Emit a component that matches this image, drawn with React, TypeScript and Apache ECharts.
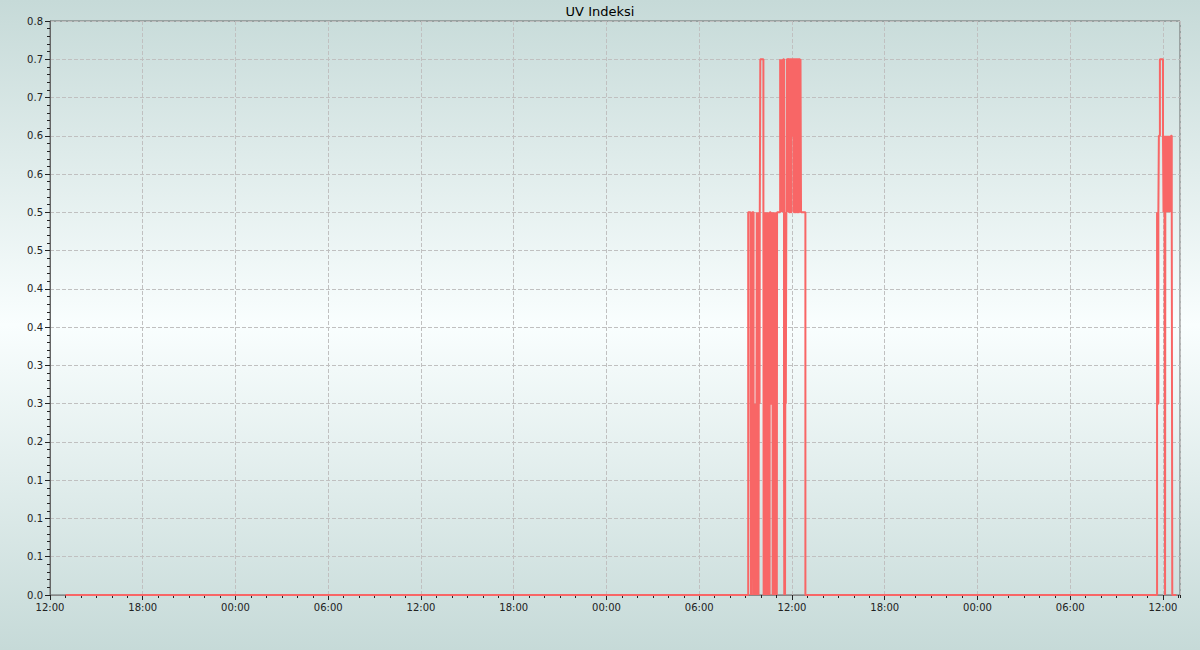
import React, { useEffect, useRef } from "react";
import * as echarts from "echarts";

// ---- data ----
const startStamp = "2024-06-10 12:00";
const xMaxHours = 73.1;
const xTickLabels = ["12:00", "18:00", "00:00", "06:00", "12:00", "18:00", "00:00", "06:00", "12:00", "18:00", "00:00", "06:00", "12:00"];
const yTickLabels = ["0.0", "0.1", "0.1", "0.1", "0.2", "0.3", "0.3", "0.4", "0.4", "0.5", "0.5", "0.6", "0.6", "0.7", "0.7", "0.8"];

const uvTimes = [
  "2024-06-10 13:00",
  "2024-06-12 09:10", "2024-06-12 09:19", "2024-06-12 09:21", "2024-06-12 09:22", "2024-06-12 09:24",
  "2024-06-12 09:25", "2024-06-12 09:31", "2024-06-12 09:32", "2024-06-12 09:34", "2024-06-12 09:35",
  "2024-06-12 09:37", "2024-06-12 09:38", "2024-06-12 09:40", "2024-06-12 09:41", "2024-06-12 09:43",
  "2024-06-12 09:45", "2024-06-12 09:47", "2024-06-12 09:49", "2024-06-12 09:50", "2024-06-12 09:52",
  "2024-06-12 09:54", "2024-06-12 09:55", "2024-06-12 09:57", "2024-06-12 10:09", "2024-06-12 10:10",
  "2024-06-12 10:12", "2024-06-12 10:13", "2024-06-12 10:15", "2024-06-12 10:16", "2024-06-12 10:18",
  "2024-06-12 10:19", "2024-06-12 10:21", "2024-06-12 10:22", "2024-06-12 10:24", "2024-06-12 10:25",
  "2024-06-12 10:27", "2024-06-12 10:28", "2024-06-12 10:29", "2024-06-12 10:31", "2024-06-12 10:33",
  "2024-06-12 10:34", "2024-06-12 10:37", "2024-06-12 10:44", "2024-06-12 10:45", "2024-06-12 10:47",
  "2024-06-12 10:48", "2024-06-12 10:50", "2024-06-12 10:51", "2024-06-12 10:52", "2024-06-12 10:54",
  "2024-06-12 10:55", "2024-06-12 10:57", "2024-06-12 10:58", "2024-06-12 11:00", "2024-06-12 11:01",
  "2024-06-12 11:02", "2024-06-12 11:14", "2024-06-12 11:16", "2024-06-12 11:18", "2024-06-12 11:20",
  "2024-06-12 11:22", "2024-06-12 11:24", "2024-06-12 11:26", "2024-06-12 11:29", "2024-06-12 11:30",
  "2024-06-12 11:32", "2024-06-12 11:33", "2024-06-12 11:35", "2024-06-12 11:36", "2024-06-12 11:38",
  "2024-06-12 11:40", "2024-06-12 11:44", "2024-06-12 11:46", "2024-06-12 11:49", "2024-06-12 11:52",
  "2024-06-12 11:55", "2024-06-12 11:58", "2024-06-12 12:01", "2024-06-12 12:04", "2024-06-12 12:07",
  "2024-06-12 12:10", "2024-06-12 12:13", "2024-06-12 12:16", "2024-06-12 12:19", "2024-06-12 12:22",
  "2024-06-12 12:25", "2024-06-12 12:28", "2024-06-12 12:31", "2024-06-12 12:33", "2024-06-12 12:35",
  "2024-06-12 12:52",
  "2024-06-13 11:37", "2024-06-13 11:39", "2024-06-13 11:42", "2024-06-13 11:44", "2024-06-13 11:48",
  "2024-06-13 12:00", "2024-06-13 12:02", "2024-06-13 12:04", "2024-06-13 12:06", "2024-06-13 12:08",
  "2024-06-13 12:09", "2024-06-13 12:11", "2024-06-13 12:13", "2024-06-13 12:15", "2024-06-13 12:17",
  "2024-06-13 12:19", "2024-06-13 12:21", "2024-06-13 12:23", "2024-06-13 12:25", "2024-06-13 12:27",
  "2024-06-13 12:29", "2024-06-13 12:31", "2024-06-13 12:34", "2024-06-13 12:36", "2024-06-13 12:52",
];

const uvValues = [
  0,
  0.5, 0.25, 0, 0.25, 0,
  0.5, 0.25, 0, 0.25, 0,
  0.25, 0, 0.25, 0, 0.5,
  0, 0.5, 0.25, 0, 0.5,
  0.25, 0.5, 0.7, 0.5, 0,
  0.5, 0, 0.5, 0, 0.5,
  0, 0.5, 0, 0.5, 0,
  0.5, 0.25, 0, 0.5, 0,
  0.5, 0.25, 0.5, 0, 0.5,
  0, 0.5, 0.25, 0, 0.5,
  0, 0.5, 0, 0.5, 0,
  0.5, 0.7, 0.5, 0.7, 0.5,
  0.7, 0.5, 0.7, 0.25, 0,
  0.5, 0, 0.5, 0.25, 0.5,
  0.7, 0.5, 0.7, 0.5, 0.7,
  0.5, 0.7, 0.6, 0.7, 0.5,
  0.7, 0.5, 0.7, 0.5, 0.7,
  0.5, 0.7, 0.5, 0.7, 0.5,
  0,
  0.5, 0.25, 0.5, 0.6, 0.7,
  0.6, 0.5, 0.6, 0.5, 0,
  0.5, 0.6, 0.5, 0.6, 0.5,
  0.6, 0.5, 0.6, 0.5, 0.6,
  0.5, 0.6, 0.5, 0, 0,
];

function toHours(stamp: string): number {
  const m = stamp.match(/(\d+)-(\d+)-(\d+) (\d+):(\d+)/)!;
  const s = startStamp.match(/(\d+)-(\d+)-(\d+) (\d+):(\d+)/)!;
  const t = Date.UTC(+m[1], +m[2] - 1, +m[3], +m[4], +m[5]);
  const t0 = Date.UTC(+s[1], +s[2] - 1, +s[3], +s[4], +s[5]);
  return (t - t0) / 3600000;
}

const FONT = "DejaVu Sans";

export default function App() {
  const ref = useRef<HTMLDivElement>(null);
  useEffect(() => {
    if (!ref.current) return;
    const chart = echarts.init(ref.current, undefined, { renderer: "svg" });
    const data = uvTimes.map((t, i) => [toHours(t), uvValues[i]]);
    const gridLine = { show: true, lineStyle: { color: "#c0c0c0", type: [4, 2] as any, width: 1 } };
    chart.setOption({
      animation: false,
      backgroundColor: "transparent",
      title: {
        text: "UV Indeksi",
        left: "center",
        top: 0,
        textStyle: { fontSize: 13, fontWeight: "normal", color: "#000", fontFamily: FONT },
      },
      grid: {
        left: 50,
        right: 20,
        top: 21,
        bottom: 55,
        show: true,
        borderColor: "#666",
        borderWidth: 1,
        backgroundColor: "transparent",
      },
      xAxis: [
        {
          type: "value",
          min: 0,
          max: xMaxHours,
          interval: 6,
          axisLine: { show: true, onZero: false, lineStyle: { color: "#888" } },
          axisTick: { show: true, length: 5, lineStyle: { color: "#222" } },
          axisLabel: {
            fontSize: 10,
            color: "#222",
            fontFamily: FONT,
            margin: 7,
            showMaxLabel: false,
            formatter: (v: number) => {
              const k = v / 6;
              if (Math.abs(k - Math.round(k)) > 1e-6) return "";
              return xTickLabels[Math.round(k)] ?? "";
            },
          },
          splitLine: gridLine,
        },
        {
          type: "value",
          min: 0,
          max: xMaxHours,
          interval: 1,
          position: "bottom",
          axisLine: { show: false, onZero: false },
          axisTick: { show: true, length: 3, lineStyle: { color: "#222" } },
          axisLabel: { show: false },
          splitLine: { show: false },
        },
      ],
      yAxis: {
        type: "value",
        min: 0,
        max: 0.75,
        interval: 0.05,
        axisLine: { show: true, lineStyle: { color: "#666" } },
        axisTick: { show: true, length: 5, lineStyle: { color: "#222" } },
        minorTick: { show: true, splitNumber: 5, length: 3, lineStyle: { color: "#222" } },
        axisLabel: {
          fontSize: 10,
          color: "#222",
          fontFamily: FONT,
          margin: 7,
          formatter: (v: number) => yTickLabels[Math.round(v / 0.05)] ?? "",
        },
        splitLine: gridLine,
      },
      series: [
        {
          type: "line",
          xAxisIndex: 0,
          step: "end",
          data,
          symbol: "none",
          showSymbol: false,
          lineStyle: { color: "#f86666", width: 2 },
          emphasis: { disabled: true },
        },
      ],
    });
    return () => chart.dispose();
  }, []);
  return (
    <div
      style={{
        position: "fixed",
        left: 0,
        top: 0,
        width: 1200,
        height: 650,
        background: "linear-gradient(to bottom, #c6dad8 0%, #f9fefe 50%, #c6dad8 100%)",
      }}
    >
      <div ref={ref} style={{ width: 1200, height: 650 }} />
    </div>
  );
}
